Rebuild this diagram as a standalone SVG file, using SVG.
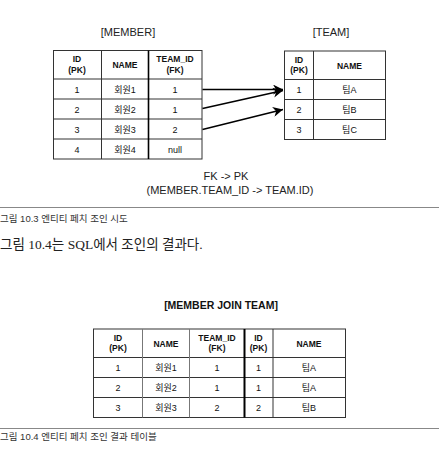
<svg xmlns="http://www.w3.org/2000/svg" width="442" height="456" viewBox="0 0 442 456">
<style>
text{font-family:"Liberation Sans","Noto Sans CJK KR",sans-serif;fill:#111;text-anchor:middle}
.t{font-size:11px;fill:#222}
.tb{font-size:10.5px;font-weight:bold}
.h{font-size:8.5px;font-weight:bold}
.d{font-size:9px}
.cap{font-size:9.5px;fill:#333;text-anchor:start}
.body{font-family:"Liberation Serif","Noto Sans CJK KR",serif;font-size:13.5px;fill:#222;text-anchor:start}
.cell{fill:#fff;stroke:#333;stroke-width:1}
.grid{stroke:#333;stroke-width:1;fill:none}
.lgrid{stroke:#777;stroke-width:1;fill:none}
.heavy{stroke:#000;stroke-width:1.6;fill:none}
.sep{stroke:#888;stroke-width:1.2}
.arr{stroke:#000;stroke-width:1.6;fill:none;marker-end:url(#ah)}
</style>
<defs>
<marker id="ah" markerWidth="12" markerHeight="10" refX="10" refY="5" orient="auto" markerUnits="userSpaceOnUse">
<path d="M0,0 L10,5 L0,10 L3,5 Z" fill="#000"/>
</marker>
</defs>
<rect width="442" height="456" fill="#fff"/>

<g id="member">
<text class="t" x="128" y="36">[MEMBER]</text>
<rect class="cell" x="53.5" y="50.5" width="148.5" height="108.5"/>
<path class="grid" d="M53.5,79 H202 M53.5,99 H202 M53.5,119 H202 M53.5,139 H202 M101.5,50.5 V159"/>
<path class="heavy" d="M148.5,50.5 V159"/>
<text class="h" x="77" y="62">ID</text>
<text class="h" x="77" y="72.5">(PK)</text>
<text class="h" x="125" y="68">NAME</text>
<text class="h" x="175" y="62">TEAM_ID</text>
<text class="h" x="175" y="72.5">(FK)</text>
<text class="d" x="77" y="92.5">1</text><text class="d" x="125" y="92.5">회원1</text><text class="d" x="175" y="92.5">1</text>
<text class="d" x="77" y="112.5">2</text><text class="d" x="125" y="112.5">회원2</text><text class="d" x="175" y="112.5">1</text>
<text class="d" x="77" y="132.5">3</text><text class="d" x="125" y="132.5">회원3</text><text class="d" x="175" y="132.5">2</text>
<text class="d" x="77" y="152.5">4</text><text class="d" x="125" y="152.5">회원4</text><text class="d" x="175" y="152.5">null</text>
</g>

<g id="team">
<text class="t" x="331" y="36">[TEAM]</text>
<rect class="cell" x="284.5" y="51" width="101" height="88.5"/>
<path class="grid" d="M284.5,79.5 H385.5 M284.5,99.5 H385.5 M284.5,119.5 H385.5 M313.5,51 V139.5"/>
<text class="h" x="299" y="62.5">ID</text>
<text class="h" x="299" y="73">(PK)</text>
<text class="h" x="349.5" y="68.5">NAME</text>
<text class="d" x="299" y="93">1</text><text class="d" x="349.5" y="93">팀A</text>
<text class="d" x="299" y="113">2</text><text class="d" x="349.5" y="113">팀B</text>
<text class="d" x="299" y="133">3</text><text class="d" x="349.5" y="133">팀C</text>
</g>

<g id="connectors">
<line class="arr" x1="202.5" y1="89.5" x2="283" y2="89.5"/>
<line class="arr" x1="202.5" y1="108.5" x2="283" y2="90.5"/>
<line class="arr" x1="202.5" y1="129.5" x2="283" y2="109.5"/>
</g>

<g id="fk-label">
<text class="t" x="226" y="180">FK -&gt; PK</text>
<text class="t" x="230" y="193.5">(MEMBER.TEAM_ID -&gt; TEAM.ID)</text>
</g>

<line class="sep" x1="0" y1="207.5" x2="439" y2="207.5"/>
<text class="cap" x="0" y="221.5">그림 10.3 엔티티 페치 조인 시도</text>
<text class="body" x="0" y="248.5">그림 10.4는 SQL에서 조인의 결과다.</text>

<g id="join">
<text class="tb" x="221" y="309">[MEMBER JOIN TEAM]</text>
<rect class="cell" x="93.5" y="329" width="252" height="88.5"/>
<path class="grid" d="M93.5,357.5 H345.5 M93.5,377.5 H345.5 M93.5,397.5 H345.5"/>
<path class="lgrid" d="M142.5,329 V417.5 M189.5,329 V417.5"/>
<path class="grid" d="M273,329 V417.5"/>
<path class="heavy" d="M244.5,329 V417.5" style="stroke-width:2"/>
<text class="h" x="118" y="340.5">ID</text>
<text class="h" x="118" y="351">(PK)</text>
<text class="h" x="166" y="346.5">NAME</text>
<text class="h" x="217" y="340.5">TEAM_ID</text>
<text class="h" x="217" y="351">(FK)</text>
<text class="h" x="258.5" y="340.5">ID</text>
<text class="h" x="258.5" y="351">(PK)</text>
<text class="h" x="309" y="346.5">NAME</text>
<text class="d" x="118" y="371">1</text><text class="d" x="166" y="371">회원1</text><text class="d" x="217" y="371">1</text><text class="d" x="258.5" y="371">1</text><text class="d" x="309" y="371">팀A</text>
<text class="d" x="118" y="391">2</text><text class="d" x="166" y="391">회원2</text><text class="d" x="217" y="391">1</text><text class="d" x="258.5" y="391">1</text><text class="d" x="309" y="391">팀A</text>
<text class="d" x="118" y="411">3</text><text class="d" x="166" y="411">회원3</text><text class="d" x="217" y="411">2</text><text class="d" x="258.5" y="411">2</text><text class="d" x="309" y="411">팀B</text>
</g>

<line class="sep" x1="0" y1="428.5" x2="439" y2="428.5"/>
<text class="cap" x="0" y="440">그림 10.4 엔티티 페치 조인 결과 테이블</text>
</svg>
